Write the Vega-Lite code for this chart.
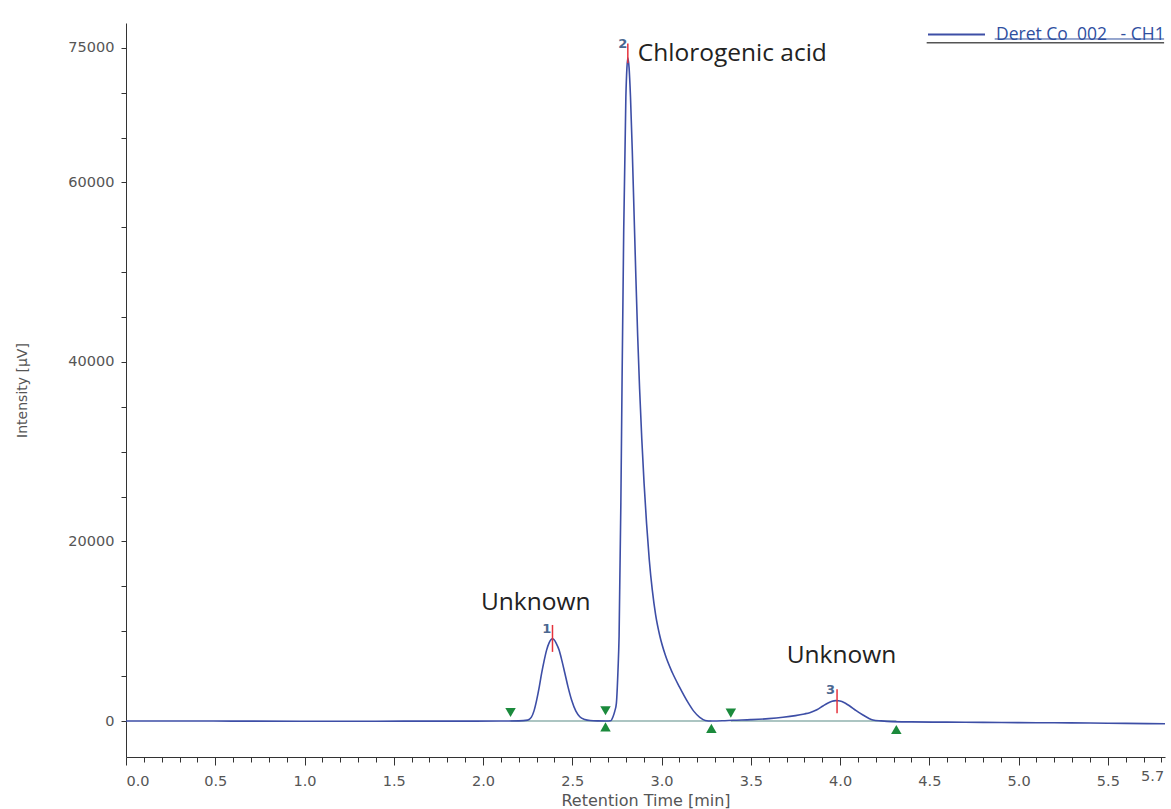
{
  "$schema": "https://vega.github.io/schema/vega-lite/v6.json",
  "width": 1039,
  "height": 734,
  "autosize": {"type": "none"},
  "padding": {"left": 126, "top": 23, "right": 6, "bottom": 52},
  "background": "white",
  "config": {
    "view": {"stroke": null},
    "font": "DejaVu Sans",
    "axis": {"grid": false, "domainColor": "#333333", "tickColor": "#333333", "labelColor": "#555555", "titleColor": "#555555", "labelFont": "DejaVu Sans", "titleFont": "DejaVu Sans", "titleFontWeight": "normal"}
  },
  "datasets": {
    "trace": [
      {"t": 0, "v": 0}, {"t": 0.3, "v": 0}, {"t": 0.6, "v": -10}, {"t": 1.0, "v": -20}, {"t": 1.4, "v": -20}, {"t": 1.8, "v": -15}, {"t": 2.1, "v": -5}, {"t": 2.2, "v": 10},
      {"t": 2.25, "v": 100}, {"t": 2.27, "v": 400}, {"t": 2.285, "v": 1100}, {"t": 2.3, "v": 2300}, {"t": 2.315, "v": 3800}, {"t": 2.328, "v": 5300}, {"t": 2.342, "v": 6700}, {"t": 2.356, "v": 7900}, {"t": 2.37, "v": 8700}, {"t": 2.38, "v": 9050}, {"t": 2.389, "v": 9150},
      {"t": 2.398, "v": 9050}, {"t": 2.41, "v": 8650}, {"t": 2.426, "v": 7900}, {"t": 2.442, "v": 6700}, {"t": 2.458, "v": 5350}, {"t": 2.476, "v": 3800}, {"t": 2.496, "v": 2340}, {"t": 2.52, "v": 1100}, {"t": 2.542, "v": 480}, {"t": 2.57, "v": 170}, {"t": 2.6, "v": 50}, {"t": 2.64, "v": 10}, {"t": 2.69, "v": 0},
      {"t": 2.714, "v": 20}, {"t": 2.728, "v": 480}, {"t": 2.738, "v": 1100}, {"t": 2.747, "v": 2000}, {"t": 2.756, "v": 5700}, {"t": 2.762, "v": 9400}, {"t": 2.772, "v": 24300}, {"t": 2.779, "v": 38500}, {"t": 2.788, "v": 54700}, {"t": 2.8, "v": 69500}, {"t": 2.806, "v": 72800}, {"t": 2.811, "v": 73900},
      {"t": 2.818, "v": 72800}, {"t": 2.826, "v": 69500}, {"t": 2.836, "v": 63500}, {"t": 2.846, "v": 56500}, {"t": 2.856, "v": 49500}, {"t": 2.866, "v": 43000}, {"t": 2.877, "v": 37000}, {"t": 2.889, "v": 31500}, {"t": 2.902, "v": 26500}, {"t": 2.916, "v": 22000}, {"t": 2.931, "v": 18000}, {"t": 2.948, "v": 14600}, {"t": 2.967, "v": 11800}, {"t": 2.99, "v": 9500}, {"t": 3.02, "v": 7400}, {"t": 3.06, "v": 5400}, {"t": 3.1, "v": 3800}, {"t": 3.147, "v": 2100}, {"t": 3.18, "v": 1100}, {"t": 3.214, "v": 400}, {"t": 3.245, "v": 60}, {"t": 3.28, "v": 0},
      {"t": 3.34, "v": 20}, {"t": 3.4, "v": 80}, {"t": 3.5, "v": 150}, {"t": 3.6, "v": 260}, {"t": 3.68, "v": 410}, {"t": 3.75, "v": 600}, {"t": 3.8, "v": 790}, {"t": 3.83, "v": 930}, {"t": 3.87, "v": 1250}, {"t": 3.904, "v": 1670}, {"t": 3.93, "v": 1980}, {"t": 3.955, "v": 2200}, {"t": 3.975, "v": 2270}, {"t": 3.99, "v": 2260}, {"t": 4.01, "v": 2170}, {"t": 4.03, "v": 1980}, {"t": 4.054, "v": 1670}, {"t": 4.09, "v": 1150}, {"t": 4.128, "v": 670}, {"t": 4.16, "v": 300}, {"t": 4.184, "v": 110}, {"t": 4.23, "v": 10}, {"t": 4.29, "v": -70},
      {"t": 4.4, "v": -100}, {"t": 4.6, "v": -130}, {"t": 4.8, "v": -150}, {"t": 5.0, "v": -180}, {"t": 5.2, "v": -200}, {"t": 5.4, "v": -230}, {"t": 5.6, "v": -270}, {"t": 5.82, "v": -300}
    ],
    "baselines": [
      {"t": 2.154, "t2": 2.686, "v": 0},
      {"t": 2.686, "t2": 3.279, "v": 0},
      {"t": 3.388, "t2": 4.315, "v": 0}
    ],
    "markers": [
      {"t": 2.154, "v": 950, "kind": "start"},
      {"t": 2.686, "v": 1150, "kind": "start"},
      {"t": 3.388, "v": 880, "kind": "start"},
      {"t": 2.686, "v": -650, "kind": "end"},
      {"t": 3.279, "v": -820, "kind": "end"},
      {"t": 4.315, "v": -950, "kind": "end"}
    ],
    "peaks": [
      {"t": 2.389, "v": 7700, "v2": 10700, "n": "1", "tn": 2.357, "vn": 10300},
      {"t": 2.811, "v": 73300, "v2": 75500, "n": "2", "tn": 2.783, "vn": 75400},
      {"t": 3.983, "v": 860, "v2": 3530, "n": "3", "tn": 3.947, "vn": 3450}
    ],
    "notes": [
      {"t": 2.867, "v": 74300, "label": "Chlorogenic acid"},
      {"t": 1.988, "v": 13150, "label": "Unknown"},
      {"t": 3.701, "v": 7240, "label": "Unknown"}
    ],
    "legendFrame": [
      {"t": 4.485, "t2": 5.815, "v": 75577}
    ],
    "legendUnderline": [
      {"t": 4.866, "t2": 5.815, "v": 75990}
    ]
  },
  "layer": [
    {
      "data": {"name": "baselines"},
      "mark": {"type": "rule", "color": "#5a8c86", "strokeWidth": 1.2},
      "encoding": {
        "x": {"field": "t", "type": "quantitative"},
        "x2": {"field": "t2"},
        "y": {"field": "v", "type": "quantitative"}
      }
    },
    {
      "data": {"name": "trace"},
      "mark": {"type": "line", "interpolate": "monotone", "strokeWidth": 1.6},
      "encoding": {
        "x": {
          "field": "t", "type": "quantitative",
          "scale": {"domain": [0, 5.82], "nice": false, "zero": false},
          "axis": {
            "title": "Retention Time [min]",
            "titleFontSize": 16,
            "titleY": 43,
            "titleBaseline": "middle",
            "tickCount": 200,
            "values": [0, 0.1, 0.2, 0.3, 0.4, 0.5, 0.6, 0.7, 0.8, 0.9, 1, 1.1, 1.2, 1.3, 1.4, 1.5, 1.6, 1.7, 1.8, 1.9, 2, 2.1, 2.2, 2.3, 2.4, 2.5, 2.6, 2.7, 2.8, 2.9, 3, 3.1, 3.2, 3.3, 3.4, 3.5, 3.6, 3.7, 3.8, 3.9, 4, 4.1, 4.2, 4.3, 4.4, 4.5, 4.6, 4.7, 4.8, 4.9, 5, 5.1, 5.2, 5.3, 5.4, 5.5, 5.6, 5.7, 5.8],
            "labelExpr": "indexof([0, 0.5, 1, 1.5, 2, 2.5, 3, 3.5, 4, 4.5, 5, 5.5, 5.7], datum.value) >= 0 ? format(datum.value, '.1f') : ''",
            "tickSize": {"condition": {"test": "indexof([0, 0.5, 1, 1.5, 2, 2.5, 3, 3.5, 4, 4.5, 5, 5.5], datum.value) >= 0", "value": 8}, "value": 5},
            "labelPadding": {"condition": {"test": "datum.value == 5.7", "value": 7}, "value": 9},
            "labelAlign": {"condition": {"test": "datum.value == 5.7 || datum.value == 0", "value": "left"}, "value": "center"},
            "labelOffset": {"condition": {"test": "datum.value == 5.7", "value": -3}, "value": 0},
            "labelFontSize": 14.5,
            "labelOverlap": false
          }
        },
        "y": {
          "field": "v", "type": "quantitative",
          "scale": {"domain": [-4011, 77771], "nice": false, "zero": false},
          "axis": {
            "title": "Intensity [µV]",
            "titleFontSize": 14,
            "titleX": -104,
            "titleY": 367,
            "titleBaseline": "middle",
            "titleAlign": "center",
            "tickCount": 200,
            "values": [0, 5000, 10000, 15000, 20000, 25000, 30000, 35000, 40000, 45000, 50000, 55000, 60000, 65000, 70000, 75000],
            "format": "d",
            "labelExpr": "indexof([0, 20000, 40000, 60000, 75000], datum.value) >= 0 ? datum.label : ''",
            "tickSize": 5,
            "labelPadding": 7,
            "labelFontSize": 14.5,
            "labelOverlap": false
          }
        },
        "color": {
          "datum": "Deret Co\u00a0\u00a0002\u00a0\u00a0\u00a0- CH1",
          "type": "nominal",
          "scale": {"range": ["#3d4ea6"]},
          "legend": {
            "title": null,
            "orient": "none",
            "legendX": 801,
            "legendY": -18,
            "padding": 0,
            "symbolType": "stroke",
            "symbolSize": 3249,
            "symbolStrokeWidth": 2,
            "labelFont": "Open Sans",
            "labelFontSize": 17.5,
            "labelColor": "#2f4f9f",
            "labelOffset": 10,
            "labelLimit": 300
          }
        }
      }
    },
    {
      "data": {"name": "peaks"},
      "mark": {"type": "rule", "color": "#e5323c", "strokeWidth": 1.5},
      "encoding": {
        "x": {"field": "t", "type": "quantitative"},
        "y": {"field": "v", "type": "quantitative"},
        "y2": {"field": "v2"}
      }
    },
    {
      "data": {"name": "peaks"},
      "mark": {"type": "text", "font": "DejaVu Sans", "fontSize": 13, "fontWeight": "bold", "color": "#4b6790", "align": "center", "baseline": "middle"},
      "encoding": {
        "x": {"field": "tn", "type": "quantitative"},
        "y": {"field": "vn", "type": "quantitative"},
        "text": {"field": "n"}
      }
    },
    {
      "data": {"name": "markers"},
      "mark": {"type": "point", "filled": true, "color": "#1b8a3c", "size": 110, "opacity": 1},
      "encoding": {
        "x": {"field": "t", "type": "quantitative"},
        "y": {"field": "v", "type": "quantitative"},
        "shape": {"field": "kind", "type": "nominal", "scale": {"domain": ["start", "end"], "range": ["triangle-down", "triangle-up"]}, "legend": null}
      }
    },
    {
      "data": {"name": "notes"},
      "mark": {"type": "text", "font": "Open Sans", "fontSize": 24.5, "color": "#222222", "align": "left", "baseline": "middle"},
      "encoding": {
        "x": {"field": "t", "type": "quantitative"},
        "y": {"field": "v", "type": "quantitative"},
        "text": {"field": "label"}
      }
    },
    {
      "data": {"name": "legendFrame"},
      "mark": {"type": "rule", "color": "#555555", "strokeWidth": 1.5},
      "encoding": {
        "x": {"field": "t", "type": "quantitative"},
        "x2": {"field": "t2"},
        "y": {"field": "v", "type": "quantitative"}
      }
    },
    {
      "data": {"name": "legendUnderline"},
      "mark": {"type": "rule", "color": "#2f4f9f", "strokeWidth": 1},
      "encoding": {
        "x": {"field": "t", "type": "quantitative"},
        "x2": {"field": "t2"},
        "y": {"field": "v", "type": "quantitative"}
      }
    }
  ]
}
